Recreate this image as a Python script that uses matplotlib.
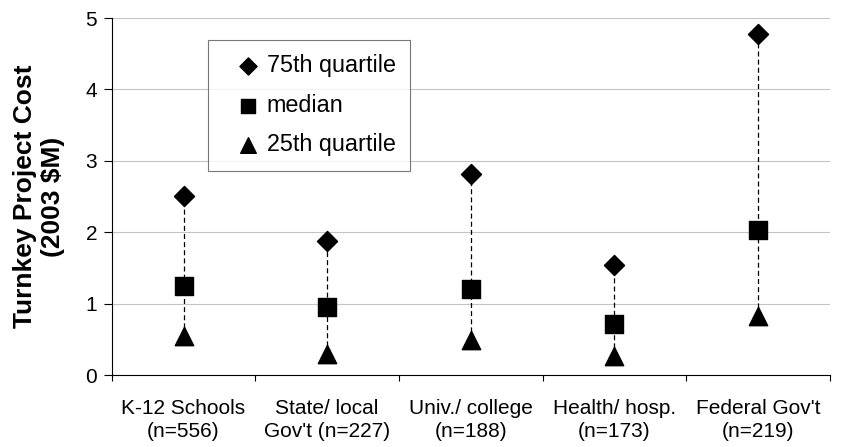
import matplotlib.pyplot as plt
import numpy as np

# kategorie a hodnoty odhadnute z obrazku
categories = ["K-12 Schools\n(n=556)", "State/ local\nGov't (n=227)", "Univ./ college\n(n=188)",
              "Health/ hosp.\n(n=173)", "Federal Gov't\n(n=219)"]
q75 = [2.51, 1.88, 2.82, 1.54, 4.77]
median = [1.25, 0.95, 1.20, 0.72, 2.03]
q25 = [0.54, 0.29, 0.49, 0.26, 0.82]

plt.rcParams["font.family"] = ["Liberation Sans", "DejaVu Sans"]

fig = plt.figure(figsize=(8.45, 4.47), dpi=100)
ax = fig.add_axes([0.1322, 0.161, 0.8498, 0.7987])

x = np.arange(len(categories))
ax.vlines(x, q25, q75, colors="black", linestyles=(0, (4, 2.5)), linewidth=0.9, zorder=2)
ax.scatter(x, q75, marker="D", s=105, color="black", label="75th quartile", zorder=3)
ax.scatter(x, median, marker="s", s=150, color="black", label="median", zorder=3)
ax.scatter(x, q25, marker="^", s=175, color="black", label="25th quartile", zorder=3)

ax.set_xlim(-0.5, len(categories) - 0.5)
ax.set_ylim(0, 5)
ax.set_yticks([0, 1, 2, 3, 4, 5])
ax.tick_params(axis="y", labelsize=15, direction="out", length=5.5, width=0.8, pad=5)
ax.yaxis.grid(True, color="#c4c4c4", linewidth=0.8)
ax.set_axisbelow(True)

ax.set_xticks(x)
ax.set_xticklabels(categories, fontsize=15, linespacing=1.3)
ax.tick_params(axis="x", length=0, pad=17)
ax.set_xticks(np.arange(len(categories) + 1) - 0.5, minor=True)
ax.tick_params(axis="x", which="minor", direction="out", length=4.5, width=0.8)

ax.spines["top"].set_visible(False)
ax.spines["right"].set_visible(False)
ax.set_ylabel("Turnkey Project Cost\n(2003 $M)", fontsize=19, fontweight="bold")
ax.yaxis.set_label_coords(-0.065, 0.5)

leg = ax.legend(loc="upper left", bbox_to_anchor=(208 / 845, 1 - 40 / 447),
                bbox_transform=fig.transFigure, borderaxespad=0, fontsize=16.8,
                frameon=True, fancybox=False, edgecolor="#555555",
                handletextpad=-0.34, labelspacing=0.70, borderpad=0.62, handlelength=2.23,
                markerscale=0.85)
leg.get_frame().set_linewidth(0.8)

fig.savefig("out.png", dpi=100)
plt.close(fig)
